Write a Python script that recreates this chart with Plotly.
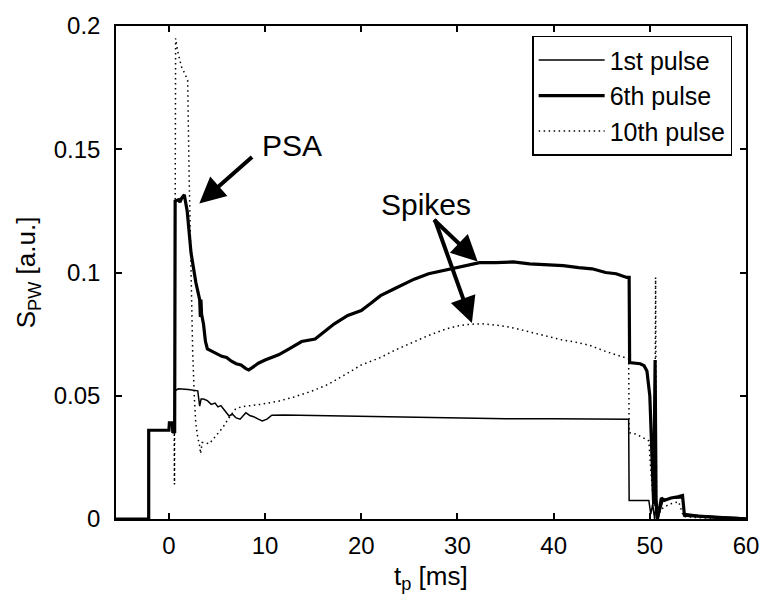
import plotly.graph_objects as go

# ---- data ----
t1 = [-5.5, -2.1, -2.1, 0.0, 0.05, 0.35, 0.4, 0.55, 0.6, 1.0, 2.0, 3.0, 3.2, 3.35, 3.6, 4.0, 4.4, 4.8,
      5.1, 5.4, 5.7, 6.25, 6.6, 7.0, 7.4, 8.0, 8.4, 8.8, 9.3, 9.7, 10.2, 10.7, 12.0, 15.0, 18.0, 20.0,
      25.0, 30.0, 35.0, 40.0, 44.0, 47.8, 47.85, 49.9, 50.1, 50.3, 50.5, 50.7, 50.9, 51.1, 51.4, 52.5,
      53.4, 53.6, 55.0, 58.0, 60.0]
s1 = [0.0, 0.0, 0.036, 0.036, 0.039, 0.039, 0.035, 0.035, 0.052, 0.0528, 0.0525, 0.052, 0.0458, 0.0487,
      0.0487, 0.048, 0.0465, 0.047, 0.0455, 0.046, 0.0445, 0.0418, 0.0425, 0.041, 0.0405, 0.0431, 0.042,
      0.0415, 0.0405, 0.0398, 0.0405, 0.0421, 0.0422, 0.042, 0.0418, 0.0418, 0.0412, 0.041, 0.0407,
      0.0407, 0.0405, 0.0405, 0.0075, 0.0075, 0.002, 0.006, 0.0, 0.008, 0.001, 0.004, 0.008, 0.0085,
      0.0085, 0.0022, 0.0015, 0.0008, 0.0004]

t6 = [-5.5, -2.1, -2.1, 0.0, 0.05, 0.35, 0.4, 0.6, 0.65, 1.0, 1.15, 1.3, 1.6, 1.9, 2.3, 2.8, 3.2, 3.27,
      3.33, 3.4, 3.6, 3.8, 4.0, 4.5, 5.0, 5.5, 6.0, 6.5, 7.0, 7.5, 8.0, 8.3, 8.7, 9.3, 10.0, 11.4, 12.5,
      13.8, 15.2, 16.0, 17.2, 18.6, 20.0, 21.0, 22.0, 23.5, 25.5, 27.0, 28.9, 30.5, 32.3, 34.0, 35.8,
      37.5, 39.2, 41.0, 42.6, 44.0, 45.4, 46.5, 47.6, 47.85, 47.9, 48.5, 49.0, 49.4, 49.7, 50.0, 50.2,
      50.4, 50.55, 50.65, 50.8, 51.0, 51.2, 51.5, 52.2, 52.9, 53.4, 53.6, 55.0, 57.0, 59.0, 60.0]
s6 = [0.0, 0.0, 0.036, 0.036, 0.039, 0.039, 0.0355, 0.0355, 0.129, 0.1295, 0.1285, 0.130, 0.1315, 0.125,
      0.108, 0.096, 0.089, 0.082, 0.089, 0.083, 0.079, 0.072, 0.069, 0.068, 0.067, 0.066, 0.0655, 0.064,
      0.063, 0.0625, 0.061, 0.0605, 0.0615, 0.0632, 0.0645, 0.0666, 0.069, 0.072, 0.073, 0.0755, 0.0792,
      0.0826, 0.0846, 0.0875, 0.0906, 0.0935, 0.0973, 0.0995, 0.101, 0.1025, 0.104, 0.104, 0.1043,
      0.1035, 0.1033, 0.1028, 0.102, 0.1015, 0.100, 0.0995, 0.098, 0.098, 0.0635, 0.0632, 0.063, 0.0622,
      0.060, 0.050, 0.025, 0.006, 0.0645, 0.006, 0.0, 0.005, 0.0085, 0.0075, 0.0085, 0.009, 0.0095,
      0.0015, 0.001, 0.0006, 0.0003, 0.0]

t10 = [-5.5, -2.1, -2.1, 0.0, 0.05, 0.35, 0.4, 0.55, 0.58, 0.66, 0.7, 0.9, 1.1, 1.3, 1.5, 1.8, 1.95, 2.1,
       2.3, 2.47, 2.65, 2.8, 3.0, 3.16, 3.3, 3.45, 3.7, 4.2, 4.9, 5.6, 6.25, 6.9, 7.5, 8.3, 9.5, 11.4,
       13.0, 14.8, 16.5, 18.3, 20.0, 22.0, 23.5, 25.5, 27.0, 28.9, 30.0, 31.3, 32.5, 34.1, 35.5, 37.5,
       39.0, 40.9, 42.0, 43.7, 45.4, 46.5, 47.6, 47.8, 47.85, 48.5, 49.3, 49.9, 50.1, 50.3, 50.5, 50.6,
       50.7, 50.9, 51.2, 52.0, 53.0, 53.5, 55.0, 60.0]
s10 = [0.0, 0.0, 0.036, 0.036, 0.039, 0.039, 0.035, 0.035, 0.014, 0.12, 0.195, 0.190, 0.186, 0.1835,
       0.182, 0.179, 0.178, 0.14, 0.096, 0.068, 0.049, 0.0385, 0.033, 0.0305, 0.0265, 0.031, 0.031,
       0.0305, 0.0338, 0.0371, 0.0411, 0.0445, 0.0455, 0.0458, 0.0465, 0.0478, 0.0495, 0.0518, 0.0545,
       0.0585, 0.0625, 0.0655, 0.0685, 0.0719, 0.0745, 0.0772, 0.0783, 0.079, 0.0792, 0.0786, 0.0778,
       0.0759, 0.0745, 0.0726, 0.072, 0.0705, 0.068, 0.0665, 0.0652, 0.065, 0.035, 0.0345, 0.033, 0.0317,
       0.02, 0.01, 0.005, 0.098, 0.005, 0.002, 0.004, 0.006, 0.007, 0.001, 0.0005, 0.0]

series_names = ["1st pulse", "6th pulse", "10th pulse"]
x_ticks = [0, 10, 20, 30, 40, 50, 60]
y_ticks = [0, 0.05, 0.1, 0.15, 0.2]
y_ticklabels = ["0", "0.05", "0.1", "0.15", "0.2"]

FONT = "Liberation Sans, Arial, Helvetica, sans-serif"

fig = go.Figure()
fig.add_trace(go.Scatter(x=t1, y=s1, mode="lines", name=series_names[0],
                         line=dict(color="black", width=1.5)))
fig.add_trace(go.Scatter(x=t6, y=s6, mode="lines", name=series_names[1],
                         line=dict(color="black", width=3.2)))
fig.add_trace(go.Scatter(x=t10, y=s10, mode="lines", name=series_names[2],
                         line=dict(color="black", width=1.5, dash="1.5px,3.5px")))

axis_common = dict(showgrid=False, zeroline=False, showline=True, linecolor="black", linewidth=1.5,
                   mirror="ticks", ticks="inside", ticklen=6, tickwidth=1.5, tickcolor="black",
                   tickfont=dict(family=FONT, size=24, color="black"))

fig.update_xaxes(range=[-5.5, 60], tickvals=x_ticks, ticklabelstandoff=4, **axis_common)
fig.update_yaxes(range=[0, 0.2], tickvals=y_ticks, ticktext=y_ticklabels, ticklabelstandoff=9,
                 **axis_common)

arrow_style = dict(showarrow=True, arrowhead=2, arrowsize=1.3, arrowwidth=4, arrowcolor="black",
                   standoff=0, startstandoff=0, axref="x", ayref="y", text="")

fig.update_layout(
    width=771, height=598,
    margin=dict(l=116, r=19, t=21, b=79),
    paper_bgcolor="white", plot_bgcolor="white",
    font=dict(family=FONT, color="black"),
    showlegend=True,
    legend=dict(x=0.978, y=0.98, xanchor="right", yanchor="top", bgcolor="white",
                bordercolor="black", borderwidth=1.5, font=dict(family=FONT, size=25),
                itemwidth=66, tracegroupgap=0),
    annotations=[
        dict(x=3.16, y=0.128, ax=8.8, ay=0.1474, **arrow_style),
        dict(x=32.1, y=0.1045, ax=27.4, ay=0.122, **arrow_style),
        dict(x=31.5, y=0.0795, ax=27.6, ay=0.122, **arrow_style),
        dict(x=12.75, y=0.1515, text="PSA", showarrow=False, xanchor="center", yanchor="middle",
             font=dict(family=FONT, size=30, color="black")),
        dict(x=26.7, y=0.1275, text="Spikes", showarrow=False, xanchor="center", yanchor="middle",
             font=dict(family=FONT, size=30, color="black")),
        dict(xref="paper", yref="paper", x=0.5, y=-0.118, text="t<sub>p</sub> [ms]", showarrow=False,
             xanchor="center", yanchor="middle", font=dict(family=FONT, size=26, color="black")),
        dict(xref="paper", yref="paper", x=-0.14, y=0.5, text="S<sub>PW</sub> [a.u.]",
             showarrow=False, xanchor="center", yanchor="middle", textangle=-90,
             font=dict(family=FONT, size=26, color="black")),
    ],
)

fig.write_html("out.html")
